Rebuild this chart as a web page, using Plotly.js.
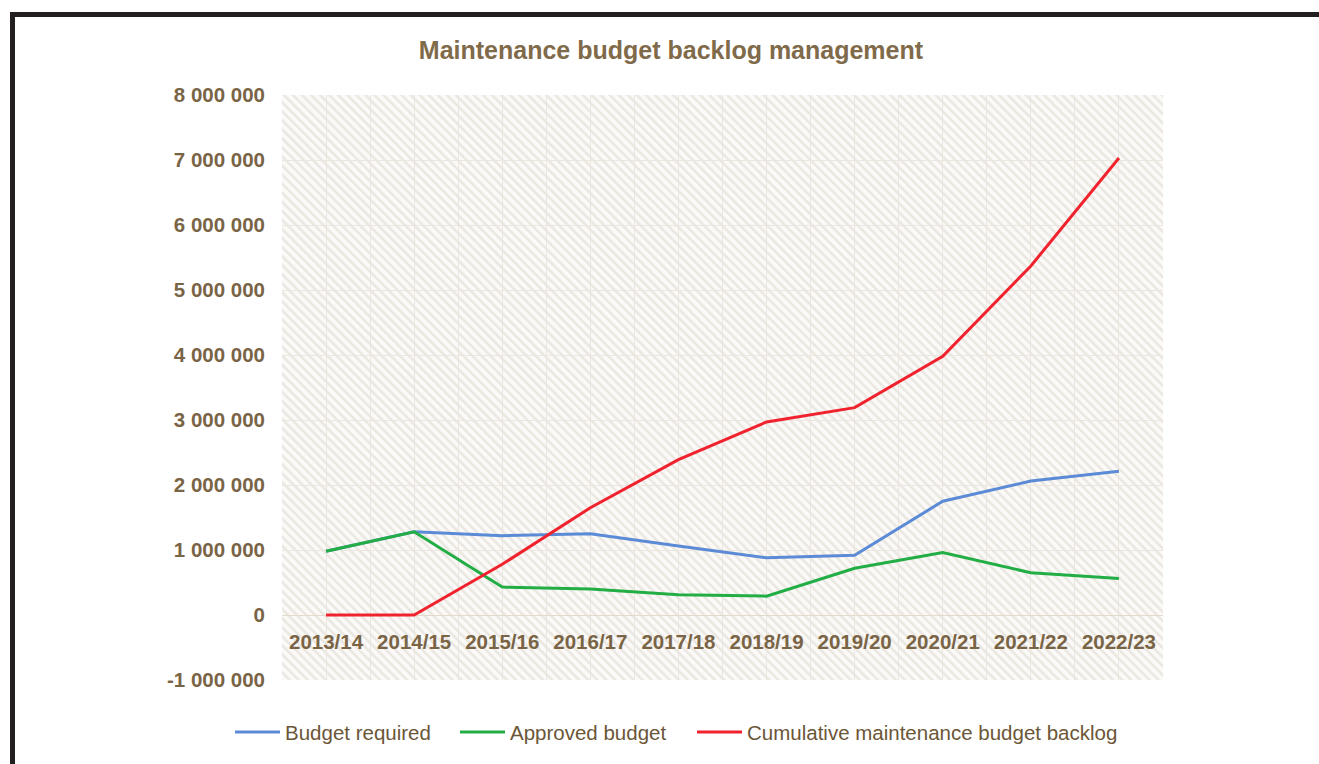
<!DOCTYPE html>
<html>
<head>
<meta charset="utf-8">
<script src="https://cdn.plot.ly/plotly-3.0.1.min.js"></script>
<style>
  html, body { margin: 0; padding: 0; background: #ffffff; }
  #chart { position: absolute; left: 0; top: 0; width: 1319px; height: 764px; }
  #frame { position: absolute; left: 10px; top: 12px; width: 1309px; height: 752px;
           border-top: 5px solid #231f20; border-left: 5px solid #231f20; pointer-events: none; }
</style>
</head>
<body>
<div id="chart"></div>
<div id="frame"></div>
<script>
// ---- data ----
const categories = ["2013/14", "2014/15", "2015/16", "2016/17", "2017/18",
                    "2018/19", "2019/20", "2020/21", "2021/22", "2022/23"];
const budgetRequired = [980000, 1280000, 1220000, 1250000, 1060000,
                        880000, 920000, 1750000, 2060000, 2210000];
const approvedBudget = [980000, 1280000, 430000, 400000, 310000,
                        290000, 720000, 960000, 650000, 560000];
const cumulativeBacklog = [0, 0, 780000, 1650000, 2390000,
                           2970000, 3190000, 3980000, 5370000, 7030000];
const yTickVals = [-1000000, 0, 1000000, 2000000, 3000000, 4000000,
                   5000000, 6000000, 7000000, 8000000];
const yTickText = ["-1 000 000", "0", "1 000 000", "2 000 000", "3 000 000", "4 000 000",
                   "5 000 000", "6 000 000", "7 000 000", "8 000 000"];
const seriesNames = ["Budget required", "Approved budget", "Cumulative maintenance budget backlog"];

// ---- styling ----
const FONT = "Liberation Sans, Arial, sans-serif";
const TXT = "#7a6446";
const GRID = "#ece7de";
const LEGFONT = { family: FONT, size: 20.5, color: "#6b5637" };

const svg = "<svg xmlns='http://www.w3.org/2000/svg' width='881' height='585' viewBox='0 0 881 585' preserveAspectRatio='none'>" +
  "<defs><pattern id='p' patternUnits='userSpaceOnUse' width='6.4' height='10' patternTransform='rotate(-45)'>" +
  "<rect x='0' y='0' width='6.4' height='10' fill='#fbfaf8'/>" +
  "<rect x='0' y='0' width='2.6' height='10' fill='#ebe8e2'/></pattern></defs>" +
  "<rect x='0' y='0' width='881' height='585' fill='url(#p)'/></svg>";
const bgSrc = "data:image/svg+xml;charset=utf-8," + encodeURIComponent(svg);

const traces = [
  { x: categories, y: budgetRequired, name: seriesNames[0], type: "scatter", mode: "lines",
    line: { color: "#5b8bd6", width: 3 }, legend: "legend" },
  { x: categories, y: approvedBudget, name: seriesNames[1], type: "scatter", mode: "lines",
    line: { color: "#22ad45", width: 3 }, legend: "legend2" },
  { x: categories, y: cumulativeBacklog, name: seriesNames[2], type: "scatter", mode: "lines",
    line: { color: "#f0222e", width: 3 }, legend: "legend3" },
  // invisible helper trace carrying the boundary gridlines axis
  { x: categories, y: budgetRequired, xaxis: "x2", yaxis: "y", type: "scatter", mode: "lines",
    line: { width: 0, color: "rgba(0,0,0,0)" }, showlegend: false, hoverinfo: "skip" }
];

function px2paper(px) { return (px - 282) / 881; }
function legendAt(px) {
  return { orientation: "h", x: px2paper(px), xanchor: "left", y: -0.089, yanchor: "middle",
           bgcolor: "rgba(0,0,0,0)", font: LEGFONT, itemwidth: 45 };
}

const layout = {
  width: 1319, height: 764,
  margin: { l: 282, r: 156, t: 95, b: 84 },
  paper_bgcolor: "rgba(0,0,0,0)",
  plot_bgcolor: "rgba(0,0,0,0)",
  font: { family: FONT, color: TXT },
  title: { text: "<b>Maintenance budget backlog management</b>",
           font: { family: FONT, size: 25, color: "#7f6a4a" },
           xref: "container", x: 0.5087, xanchor: "center",
           yref: "container", y: 0.9346, yanchor: "middle" },
  xaxis: { type: "category", categoryorder: "array", categoryarray: categories,
           range: [-0.5, 9.5], anchor: "free", position: 1 / 9,
           showline: false, zeroline: false, ticks: "", ticklabelstandoff: 12,
           showgrid: true, gridcolor: GRID, gridwidth: 1,
           tickfont: { family: FONT, size: 20.5, color: TXT, weight: "bold" } },
  xaxis2: { type: "category", overlaying: "x", matches: "x", anchor: "y",
            tickson: "boundaries", showgrid: true, gridcolor: GRID, gridwidth: 1,
            showticklabels: false, ticks: "", showline: false, zeroline: false },
  yaxis: { range: [-1000000, 8000000], tickvals: yTickVals, ticktext: yTickText,
           showline: false, ticks: "", ticklabelstandoff: 16,
           showgrid: true, gridcolor: GRID, gridwidth: 1,
           zeroline: true, zerolinecolor: "#e2dbcd", zerolinewidth: 1,
           tickfont: { family: FONT, size: 20.5, color: TXT, weight: "bold" } },
  legend: legendAt(230),
  legend2: legendAt(455),
  legend3: legendAt(692),
  images: [{ source: bgSrc, xref: "paper", yref: "paper", x: 0, y: 1, sizex: 1, sizey: 1,
             sizing: "stretch", xanchor: "left", yanchor: "top", layer: "below" }],
  showlegend: true
};

Plotly.newPlot("chart", traces, layout, { displayModeBar: false, staticPlot: true });
</script>
</body>
</html>
